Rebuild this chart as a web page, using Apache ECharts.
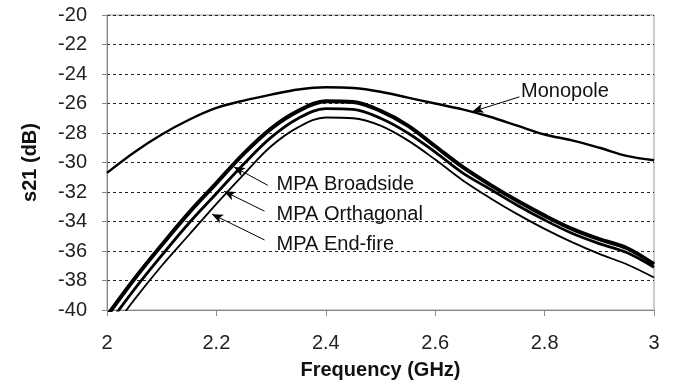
<!DOCTYPE html>
<html>
<head>
<meta charset="utf-8">
<script src="https://cdn.jsdelivr.net/npm/echarts@6/dist/echarts.min.js"></script>
<style>
  html, body { margin: 0; padding: 0; background: #fff; }
  #chart { width: 673px; height: 385px; }
</style>
</head>
<body>
<div id="chart"></div>
<script>
// frequency points (GHz)
var freq = [2.00, 2.05, 2.10, 2.15, 2.20, 2.25, 2.30, 2.35, 2.40, 2.45, 2.50,
            2.55, 2.60, 2.65, 2.70, 2.75, 2.80, 2.85, 2.90, 2.95, 3.00];

// s21 in dB
var monopole   = [-30.7, -29.3, -28.1, -27.1, -26.3, -25.8, -25.4, -25.05, -24.9, -24.95, -25.2,
                  -25.6, -26.0, -26.4, -26.9, -27.5, -28.1, -28.5, -29.0, -29.55, -29.85];
var broadside  = [-40.4, -37.9, -35.6, -33.4, -31.4, -29.4, -27.7, -26.5, -25.85, -25.9, -26.5,
                  -27.5, -28.9, -30.3, -31.5, -32.6, -33.6, -34.5, -35.2, -35.8, -36.9];
var orthagonal = [-41.1, -38.6, -36.3, -34.1, -32.1, -30.1, -28.3, -27.0, -26.35, -26.4, -27.0,
                  -28.0, -29.3, -30.7, -31.8, -32.9, -33.9, -34.8, -35.5, -36.1, -37.1];
var endfire    = [-41.8, -39.3, -37.0, -34.9, -32.8, -30.8, -28.9, -27.6, -26.95, -27.0, -27.5,
                  -28.5, -29.8, -31.2, -32.4, -33.5, -34.5, -35.4, -36.2, -36.9, -37.8];

var seriesNames = ['Monopole', 'MPA Broadside', 'MPA Orthagonal', 'MPA End-fire'];

// annotation: text anchor, arrow tail, arrow tip (data coords)
var labelPos  = [[2.757, -25.2], [2.31, -31.5], [2.31, -33.5], [2.31, -35.55]];
var arrowTail = [[2.754, -25.55], [2.294, -31.55], [2.288, -33.3], [2.288, -35.25]];
var arrowTip  = [[2.668, -26.55], [2.232, -30.3], [2.214, -31.95], [2.192, -33.5]];

var font = "'Liberation Sans', Arial, sans-serif";

function pairs(ys) {
  return freq.map(function (f, i) { return [f, ys[i]]; });
}

function arrow(i) {
  return {
    silent: true,
    symbol: ['none', 'arrow'],
    symbolSize: [7, 11],
    label: { show: false },
    lineStyle: { color: '#000', width: 1, type: 'solid' },
    data: [[{ coord: arrowTail[i] }, { coord: arrowTip[i] }]]
  };
}

var chart = echarts.init(document.getElementById('chart'));
var widths = [2.4, 4, 2.8, 1.8];
var lists = [monopole, broadside, orthagonal, endfire];

var option = {
  animation: false,
  grid: {
    left: 107, right: 19, top: 15, bottom: 75,
    outerBoundsMode: 'none',
    containLabel: false,
    show: true, borderColor: '#9a9a9a', borderWidth: 1
  },
  xAxis: {
    type: 'value',
    min: 2, max: 3, interval: 0.2,
    name: 'Frequency (GHz)',
    nameLocation: 'middle',
    nameGap: 50,
    nameTextStyle: { fontFamily: font, fontSize: 20, fontWeight: 'bold', color: '#111' },
    axisLine: { lineStyle: { color: '#888', width: 1 } },
    axisTick: { length: 6, lineStyle: { color: '#888' } },
    axisLabel: { fontFamily: font, fontSize: 20, color: '#222', margin: 23 },
    splitLine: { show: false }
  },
  yAxis: {
    type: 'value',
    min: -40, max: -20, interval: 2,
    name: 's21 (dB)',
    nameLocation: 'middle',
    nameGap: 67,
    nameTextStyle: { fontFamily: font, fontSize: 20, fontWeight: 'bold', color: '#111' },
    axisLine: { show: true, lineStyle: { color: '#888', width: 1 } },
    axisTick: { show: true, length: 5, lineStyle: { color: '#888' } },
    axisLabel: { fontFamily: font, fontSize: 20, color: '#222', margin: 20 },
    splitLine: { show: true, lineStyle: { color: '#222', width: 1, type: [3, 3] } }
  },
  series: lists.map(function (ys, i) {
    return {
      name: seriesNames[i],
      type: 'line',
      data: pairs(ys),
      smooth: 0.35,
      showSymbol: false,
      clip: true,
      lineStyle: { color: '#000', width: widths[i] },
      markLine: arrow(i),
      z: 3 + i
    };
  })
};
chart.setOption(option);

// annotation texts placed from data coordinates
var texts = seriesNames.map(function (name, i) {
  var p = chart.convertToPixel({ gridIndex: 0 }, labelPos[i]);
  return {
    type: 'text',
    x: p[0], y: p[1],
    style: {
      text: name,
      font: '20px ' + font,
      fill: '#111',
      textAlign: 'left',
      textVerticalAlign: 'middle'
    }
  };
});
chart.setOption({ graphic: texts });
</script>
</body>
</html>
